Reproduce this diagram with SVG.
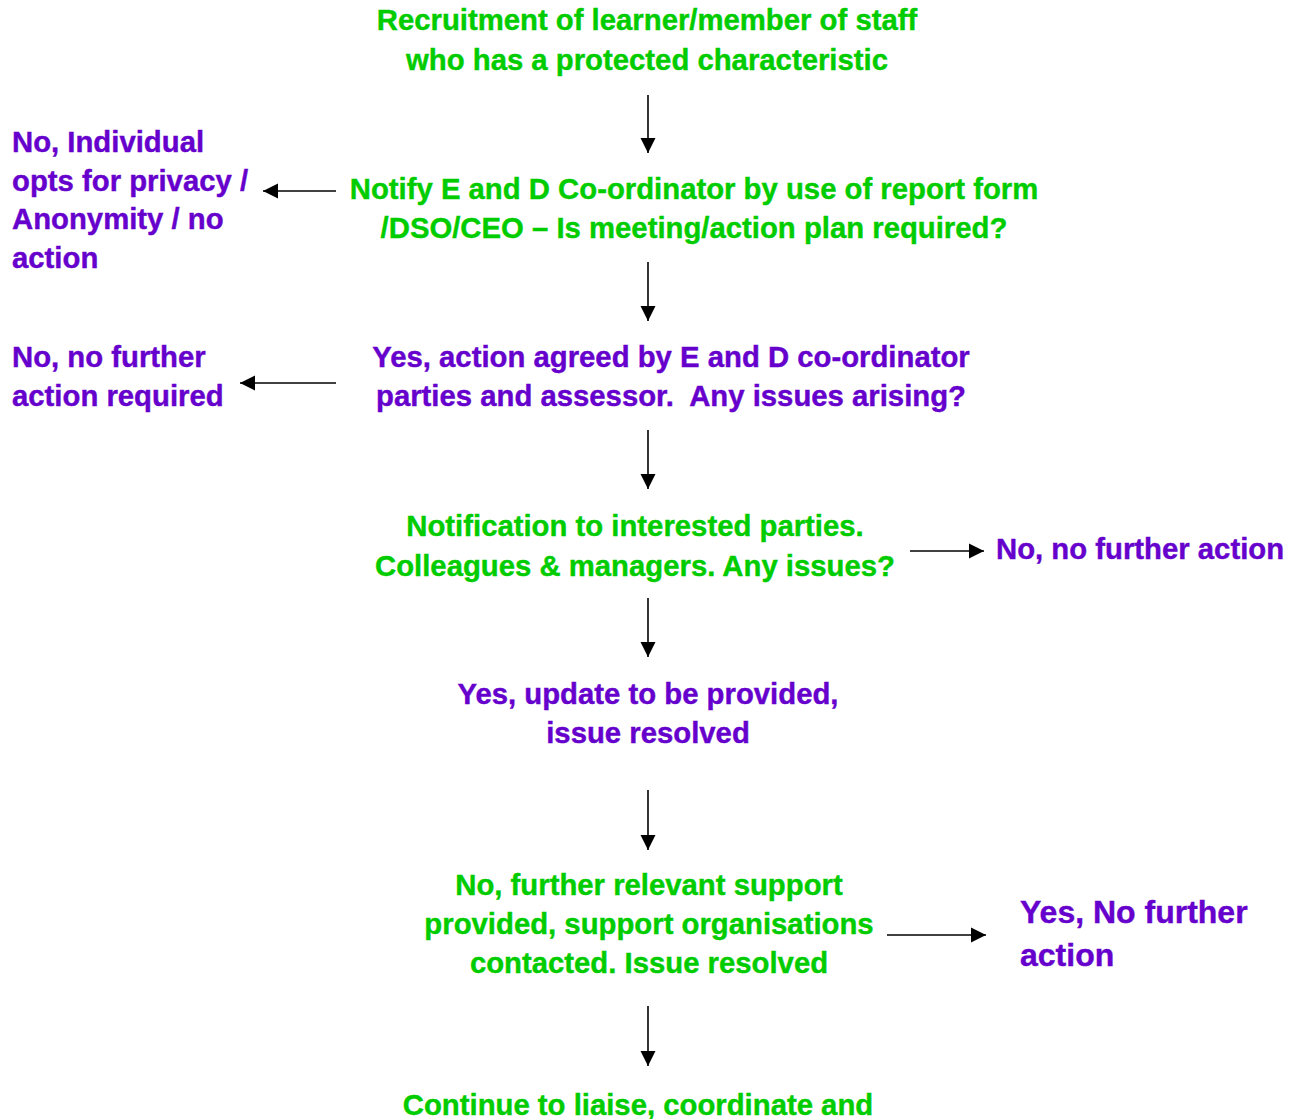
<svg xmlns="http://www.w3.org/2000/svg" width="1296" height="1119" viewBox="0 0 1296 1119">
<style>
text{font-family:"Liberation Sans",Arial,sans-serif;font-weight:bold;font-size:29.3px;stroke-width:0.4px}
.g{fill:#00CC00;stroke:#00CC00}
.p{fill:#6600CC;stroke:#6600CC}
.m{text-anchor:middle}
.big{font-size:32px}
.c{stroke:#000;stroke-width:1.6;fill:none;marker-end:url(#ah)}
</style>
<defs>
<marker id="ah" markerUnits="userSpaceOnUse" markerWidth="16" markerHeight="16" refX="15" refY="8" orient="auto" viewBox="0 0 16 16">
<path d="M0,0.5 L15,8 L0,15.5 Z" fill="#000"/>
</marker>
</defs>
<rect width="1296" height="1119" fill="#fff"/>
<g id="connectors">
<line class="c" x1="648" y1="95" x2="648" y2="153"/>
<line class="c" x1="336" y1="191" x2="263" y2="191"/>
<line class="c" x1="648" y1="262" x2="648" y2="321"/>
<line class="c" x1="336" y1="383" x2="240" y2="383"/>
<line class="c" x1="648" y1="430" x2="648" y2="489"/>
<line class="c" x1="910" y1="551" x2="984" y2="551"/>
<line class="c" x1="648" y1="598" x2="648" y2="657"/>
<line class="c" x1="648" y1="790" x2="648" y2="850"/>
<line class="c" x1="887" y1="935" x2="986" y2="935"/>
<line class="c" x1="648" y1="1006" x2="648" y2="1066"/>
</g>
<g id="n1"><text class="g m" x="647" y="30">Recruitment of learner/member of staff</text><text class="g m" x="647" y="70">who has a protected characteristic</text></g>
<g id="n2"><text class="g m" x="694" y="199">Notify E and D Co-ordinator by use of report form</text><text class="g m" x="694" y="238">/DSO/CEO – Is meeting/action plan required?</text></g>
<g id="n3"><text class="p" x="12" y="152">No, Individual</text><text class="p" x="12" y="191">opts for privacy /</text><text class="p" x="12" y="229">Anonymity / no</text><text class="p" x="12" y="268">action</text></g>
<g id="n4"><text class="p m" x="671" y="367">Yes, action agreed by E and D co-ordinator</text><text class="p m" x="671" y="406" xml:space="preserve">parties and assessor.  Any issues arising?</text></g>
<g id="n5"><text class="p" x="12" y="367">No, no further</text><text class="p" x="12" y="406">action required</text></g>
<g id="n6"><text class="g m" x="635" y="536">Notification to interested parties.</text><text class="g m" x="635" y="576">Colleagues &amp; managers. Any issues?</text></g>
<g id="n7"><text class="p" x="996" y="559">No, no further action</text></g>
<g id="n8"><text class="p m" x="648" y="704">Yes, update to be provided,</text><text class="p m" x="648" y="743">issue resolved</text></g>
<g id="n9"><text class="g m" x="649" y="895">No, further relevant support</text><text class="g m" x="649" y="934">provided, support organisations</text><text class="g m" x="649" y="973">contacted. Issue resolved</text></g>
<g id="n10"><text class="p big" x="1020" y="923">Yes, No further</text><text class="p big" x="1020" y="966">action</text></g>
<g id="n11"><text class="g m" x="638" y="1115">Continue to liaise, coordinate and</text></g>
</svg>
